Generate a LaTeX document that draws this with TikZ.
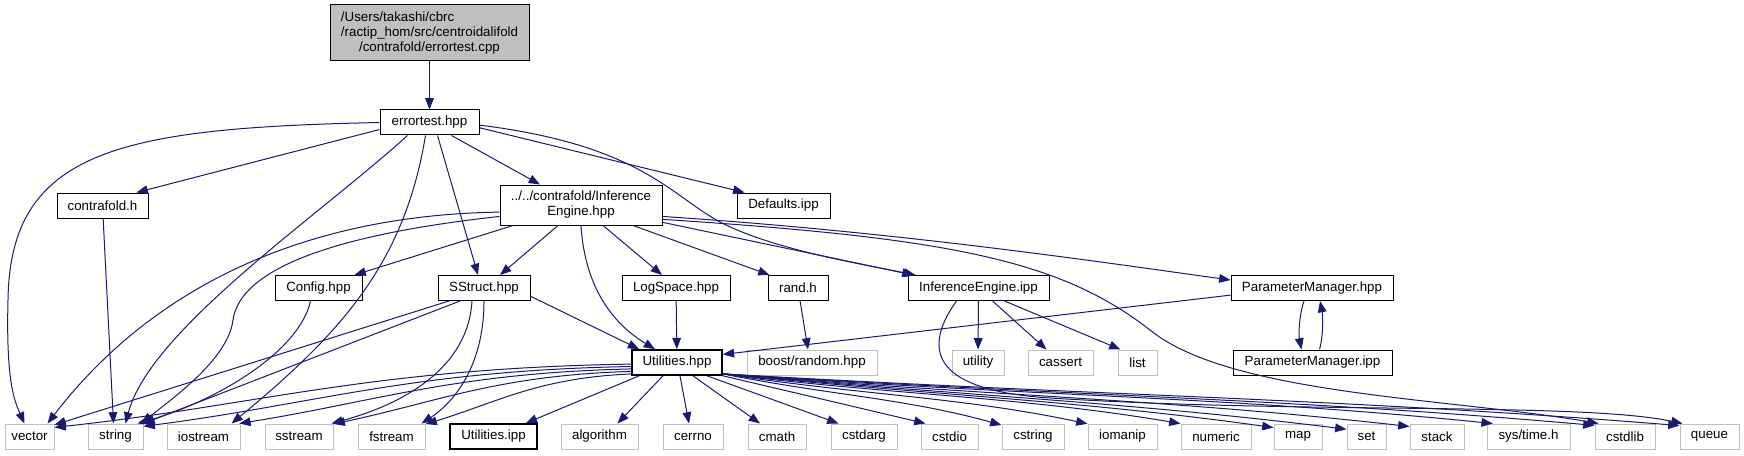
\documentclass[tikz,border=0pt]{standalone}
\usepackage{fontspec}
\setmainfont{Liberation Sans}
\usetikzlibrary{arrows.meta}
\definecolor{edgeblue}{RGB}{25,25,112}
\definecolor{sysgray}{RGB}{191,191,191}

\begin{document}
\begin{tikzpicture}[x=0.75pt, y=-0.75pt,
        box/.style={rectangle, draw=black, line width=0.75pt, fill=white, minimum height=18.75pt, inner sep=0pt, align=center, font=\fontsize{10}{11.25}\selectfont},
        sysbox/.style={box, draw=sysgray},
        bw/.style={minimum width=#1*0.75pt},
        dep/.style={draw=edgeblue, line width=0.75pt, -{Triangle[length=8.5pt, width=6.5pt]}},
    ]
        \useasboundingbox (0,0) rectangle (1744,456);

        % Top
        \node[box, fill=sysgray, bw=199, minimum height=42pt] (cpp) at (429.5,33) {\rlap{/Users/takashi/cbrc}\phantom{/ractip\_hom/src/centroidalifold}\\/ractip\_hom/src/centroidalifold\\/contrafold/errortest.cpp};
        \node[box, bw=99]  (ehpp)     at (429.5,122.5) {errortest.hpp};

        % Second row
        \node[box, bw=91]  (cfh)      at (102.5,205.5) {contrafold.h};
        \node[box, bw=162, minimum height=30pt] (infhpp) at (581,205) {../../contrafold/Inference\\Engine.hpp};
        \node[box, bw=93]  (defaults) at (783.5,205.5) {Defaults.ipp};

        % Third row
        \node[box, bw=87]  (config)   at (318.5,288) {Config.hpp};
        \node[box, bw=92]  (sstruct)  at (484,288)   {SStruct.hpp};
        \node[box, bw=108] (logspace) at (676,288)   {LogSpace.hpp};
        \node[box, bw=60]  (randh)    at (798,288)   {rand.h};
        \node[box, bw=141] (infipp)   at (978.5,288) {InferenceEngine.ipp};
        \node[box, bw=162] (pmhpp)    at (1312,288)  {ParameterManager.hpp};

        % Fourth row
        \node[box, bw=90, line width=1.2pt] (util) at (677,362.5) {Utilities.hpp};
        \node[sysbox, bw=130] (boost)   at (812,362.5)    {boost/random.hpp};
        \node[sysbox, bw=52]  (utility) at (978,362.5)    {utility};
        \node[sysbox, bw=65]  (cassert) at (1060.5,362.5) {cassert};
        \node[sysbox, bw=39]  (list)    at (1137.5,362.5) {list};
        \node[box, bw=159]    (pmipp)   at (1312.5,362.5) {ParameterManager.ipp};

        % Bottom row
        \node[sysbox, bw=49] (vec)     at (29.5,436.5)   {vector};
        \node[sysbox, bw=55] (str)     at (115.5,436.5)  {string};
        \node[sysbox, bw=73] (iost)    at (203.5,436.5)  {iostream};
        \node[sysbox, bw=68] (sst)     at (299,436.5)    {sstream};
        \node[sysbox, bw=67] (fst)     at (391.5,436.5)  {fstream};
        \node[box, bw=87, line width=1.2pt] (utilipp) at (493.5,436.5) {Utilities.ipp};
        \node[sysbox, bw=77] (algo)    at (599.5,436.5)  {algorithm};
        \node[sysbox, bw=60] (cerr)    at (693,436.5)    {cerrno};
        \node[sysbox, bw=58] (cmath)   at (777,436.5)    {cmath};
        \node[sysbox, bw=66] (carg)    at (864,436.5)    {cstdarg};
        \node[sysbox, bw=57] (cio)     at (949.5,436.5)  {cstdio};
        \node[sysbox, bw=62] (cstr)    at (1033,436.5)   {cstring};
        \node[sysbox, bw=69] (ioman)   at (1122.5,436.5) {iomanip};
        \node[sysbox, bw=70] (num)     at (1216,436.5)   {numeric};
        \node[sysbox, bw=48] (map)     at (1298,436.5)   {map};
        \node[sysbox, bw=39] (set)     at (1366.5,436.5) {set};
        \node[sysbox, bw=54] (stack)   at (1437,436.5)   {stack};
        \node[sysbox, bw=83] (systime) at (1528.5,436.5) {sys/time.h};
        \node[sysbox, bw=60] (clib)    at (1625,436.5)   {cstdlib};
        \node[sysbox, bw=59] (queue)   at (1709.5,436.5) {queue};

        % errortest.cpp / errortest.hpp
        \draw[dep] (cpp) -- (ehpp);
        \draw[dep] (ehpp.west) .. controls (120,128) and (10,150) .. (8,300) .. controls (6,380) and (14,400) .. ([shift={(-5,0)}]vec.north);
        \draw[dep] (ehpp.188) -- ([shift={(-12,0)}]cfh.north east);
        \draw[dep] ([shift={(-22,0)}]ehpp.south) .. controls (320,215) and (150,330) .. ([shift={(10,0)}]str.north);
        \draw[dep] ([shift={(-4,0)}]ehpp.south) .. controls (405,260) and (345,330) .. ([shift={(28,0)}]iost.north);
        \draw[dep] ([shift={(8,0)}]ehpp.south) -- ([shift={(-6,0)}]sstruct.north);
        \draw[dep] ([shift={(22,0)}]ehpp.south) -- ([shift={(-41,0)}]infhpp.north);
        \draw[dep] (ehpp.-6) -- ([shift={(8,0)}]defaults.north west);
        \draw[dep] (ehpp.-3) .. controls (640,145) and (670,195) .. (720,222) .. controls (770,248) and (850,262) .. ([shift={(8,0)}]infipp.north west);

        % contrafold.h, Config.hpp, SStruct.hpp
        \draw[dep] (cfh) -- ([shift={(-2,0)}]str.north);
        \draw[dep] ([shift={(-8,0)}]config.south) .. controls (300,350) and (220,400) .. ([shift={(22,0)}]str.north);
        \draw[dep] ([shift={(-35,0)}]sstruct.south) -- (vec.25);
        \draw[dep] ([shift={(-24,0)}]sstruct.south) -- (str.25);
        \draw[dep] ([shift={(-12,0)}]sstruct.south) .. controls (468,370) and (400,405) .. ([shift={(-2,0)}]sst.north east);
        \draw[dep] (sstruct.south) .. controls (484,370) and (450,405) .. ([shift={(-4,0)}]fst.north east);
        \draw[dep] (sstruct.-10) -- ([shift={(8,0)}]util.north west);

        % InferenceEngine.hpp
        \draw[dep] (infhpp.185) .. controls (300,215) and (150,290) .. ([shift={(18,0)}]vec.north);
        \draw[dep] (infhpp.188) .. controls (330,235) and (240,270) .. (233,320) .. controls (228,360) and (170,400) .. ([shift={(26,0)}]str.north);
        \draw[dep] ([shift={(-68,0)}]infhpp.south) -- ([shift={(36,0)}]config.north);
        \draw[dep] ([shift={(-23,0)}]infhpp.south) -- ([shift={(16,0)}]sstruct.north);
        \draw[dep] (infhpp.south) .. controls (585,290) and (615,325) .. ([shift={(-22,0)}]util.north);
        \draw[dep] ([shift={(22,0)}]infhpp.south) -- ([shift={(-14,0)}]logspace.north);
        \draw[dep] ([shift={(52,0)}]infhpp.south) -- ([shift={(2,0)}]randh.north west);
        \draw[dep] (infhpp.-12) -- ([shift={(6,0)}]infipp.north west);
        \draw[dep] (infhpp.-8) .. controls (900,232) and (1100,262) .. ([shift={(0,5)}]pmhpp.north west);
        \draw[dep] (infhpp.-10) .. controls (950,238) and (1060,260) .. (1150,330) .. controls (1230,395) and (1450,398) .. ([shift={(4,0)}]clib.north west);

        % LogSpace.hpp, rand.h, ParameterManager
        \draw[dep] (logspace) -- (util);
        \draw[dep] (randh) -- ([shift={(-4,0)}]boost.north);
        \draw[dep] (pmhpp.185) -- (util.10);
        \draw[dep] ([shift={(-8,0)}]pmhpp.south) .. controls +(-5,15) and +(-3,-15) .. ([shift={(-11,0)}]pmipp.north);
        \draw[dep] ([shift={(7,0)}]pmipp.north) .. controls +(4,-15) and +(3,15) .. ([shift={(8,0)}]pmhpp.south);

        % InferenceEngine.ipp
        \draw[dep] (infipp) -- (utility);
        \draw[dep] ([shift={(14,0)}]infipp.south) -- ([shift={(-14,0)}]cassert.north);
        \draw[dep] ([shift={(26,0)}]infipp.south) -- ([shift={(3,0)}]list.north west);
        \draw[dep] ([shift={(-22,0)}]infipp.south) .. controls (925,345) and (925,390) .. (1050,398) .. controls (1300,414) and (1580,402) .. ([shift={(3,0)}]queue.north west);

        % Utilities.hpp
        \foreach \t/\a/\d in {vec/182/578, str/185/489, iost/188/392, sst/191/299, fst/194/207}
            \draw[dep] (util.\a) .. controls +(-0.45*\d,4) and +(0.35*\d,-22) .. (\t.20);
        \draw[dep] ([shift={(8,0)}]util.south west) -- ([shift={(-12,0)}]utilipp.north east);
        \draw[dep] ([shift={(-14,0)}]util.south) -- ([shift={(18,0)}]algo.north);
        \draw[dep] ([shift={(3,0)}]util.south) -- ([shift={(-4,0)}]cerr.north);
        \draw[dep] ([shift={(16,0)}]util.south) -- ([shift={(-17,0)}]cmath.north);
        \draw[dep] ([shift={(30,0)}]util.south) -- ([shift={(8,0)}]carg.north west);
        \draw[dep] (util.south east) -- ([shift={(5,0)}]cio.north west);
        \foreach \t/\d in {cstr/280, ioman/366, num/459, map/552, set/625, stack/688, systime/765, clib/873, queue/958}
            \draw[dep] (util.-14) .. controls +(0.4*\d,22) and +(-0.35*\d,-27) .. (\t.160);
    \end{tikzpicture}
\end{document}
